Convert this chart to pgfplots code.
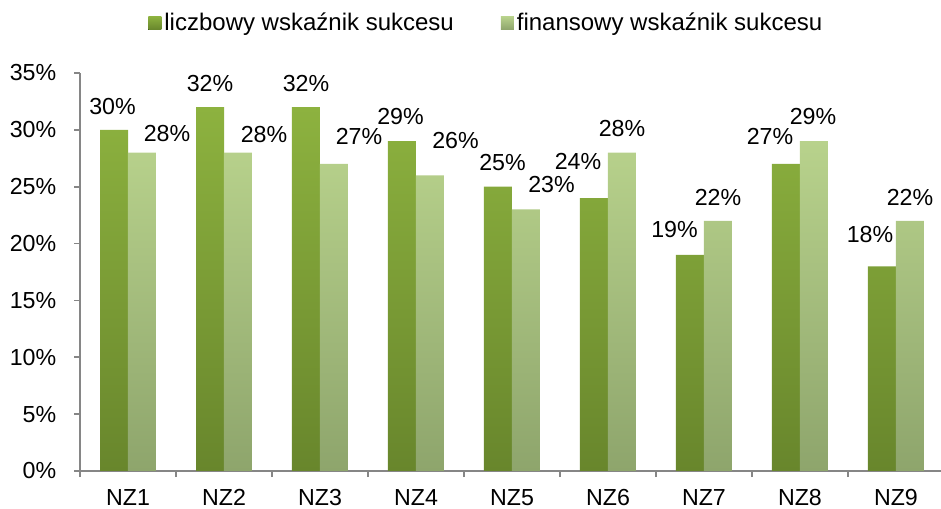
\documentclass[border=0pt]{standalone}
\usepackage{pgfplots}
\usepackage{pgfplotstable}
\pgfplotsset{compat=1.18}
\usepackage{fontspec}
\setmainfont{Liberation Sans}
\definecolor{dkTop}{RGB}{141,178,63}
\definecolor{dkBot}{RGB}{104,134,44}
\definecolor{ltTop}{RGB}{184,210,140}
\definecolor{ltBot}{RGB}{142,165,108}
\definecolor{axgray}{RGB}{134,134,134}
\pgfplotstableread{
x dark ddx ddy light ldx ldy
0 30 -1.5 23.5 28 25 19.5
1 32 0 24 28 26 18.5
2 32 0 24 27 25 28
3 29 -1.5 24.5 26 25.5 35
4 25 4.5 24.5 23 25.5 24.5
5 24 -16 36.7 28 0 24
6 19 -15.5 25 22 0 23.5
7 27 -16 27.5 29 -1 24.5
8 18 -12 31.7 22 0 23.5
}\data
\begin{document}
\fontsize{11.6pt}{13pt}\selectfont
\begin{tikzpicture}
\begin{axis}[
  at={(40pt,18.5pt)}, anchor=south west,
  scale only axis, width=430.5pt, height=199pt,
  xmin=-0.5, xmax=8.469, ymin=0, ymax=35,
  axis x line*=bottom, axis y line*=left,
  axis line style={axgray, line width=0.8pt},
  xtick={0,...,8},
  xticklabels={NZ1,NZ2,NZ3,NZ4,NZ5,NZ6,NZ7,NZ8,NZ9},
  minor xtick={-0.5,0.5,...,8.5},
  tick align=outside,
  x tick style={draw=none},
  minor x tick style={draw=axgray, line width=0.8pt},
  minor tick length=3pt,
  ytick={0,5,...,35},
  yticklabels={0\%,5\%,10\%,15\%,20\%,25\%,30\%,35\%},
  y tick style={axgray, line width=0.8pt},
  major tick length=3pt,
  xticklabel style={anchor=base, yshift=-14pt},
  yticklabel style={xshift=-4.8pt},
  tick label style={font=\fontsize{11.6pt}{13pt}\selectfont},
  /pgf/number format/assume math mode=true,
  legend columns=2,
  legend style={draw=none, fill=none, at={(rel axis cs:0.079,1.1256)}, anchor=west,
    inner sep=0pt, font=\fontsize{12pt}{14pt}\selectfont,
    /tikz/every even column/.append style={column sep=22pt},
    nodes={inner sep=1.5pt}},
  nodes near coords={\pgfmathprintnumber{\pgfplotspointmeta}\%},
  every node near coord/.append style={font=\fontsize{11.6pt}{13pt}\selectfont, anchor=center, text=black},
  clip=false,
]
\addplot[ybar, bar width=14pt, bar shift=0pt, draw=none, top color=dkTop, bottom color=dkBot,
  legend image code/.code={\fill[top color=dkTop, bottom color=dkBot] (0pt,-3.25pt) rectangle (6.5pt,3.25pt);},
  visualization depends on={\thisrow{ddx}\as\dx},
  visualization depends on={\thisrow{ddy}\as\dy},
  every node near coord/.append style={xshift=\dx*0.5pt, yshift=\dy*0.5pt}]
  table[x expr=\thisrow{x}-0.1458, y=dark]{\data};
\addlegendentry{liczbowy wskaźnik sukcesu}
\addplot[ybar, bar width=14pt, bar shift=0pt, draw=none, top color=ltTop, bottom color=ltBot,
  legend image code/.code={\fill[top color=ltTop, bottom color=ltBot] (0pt,-3.25pt) rectangle (6.5pt,3.25pt);},
  visualization depends on={\thisrow{ldx}\as\dx},
  visualization depends on={\thisrow{ldy}\as\dy},
  every node near coord/.append style={xshift=\dx*0.5pt, yshift=\dy*0.5pt}]
  table[x expr=\thisrow{x}+0.1458, y=light]{\data};
\addlegendentry{finansowy wskaźnik sukcesu}
\end{axis}
\pgfresetboundingbox
\path[use as bounding box] (0,0) rectangle (470.5pt,254pt);
\end{tikzpicture}
\end{document}
